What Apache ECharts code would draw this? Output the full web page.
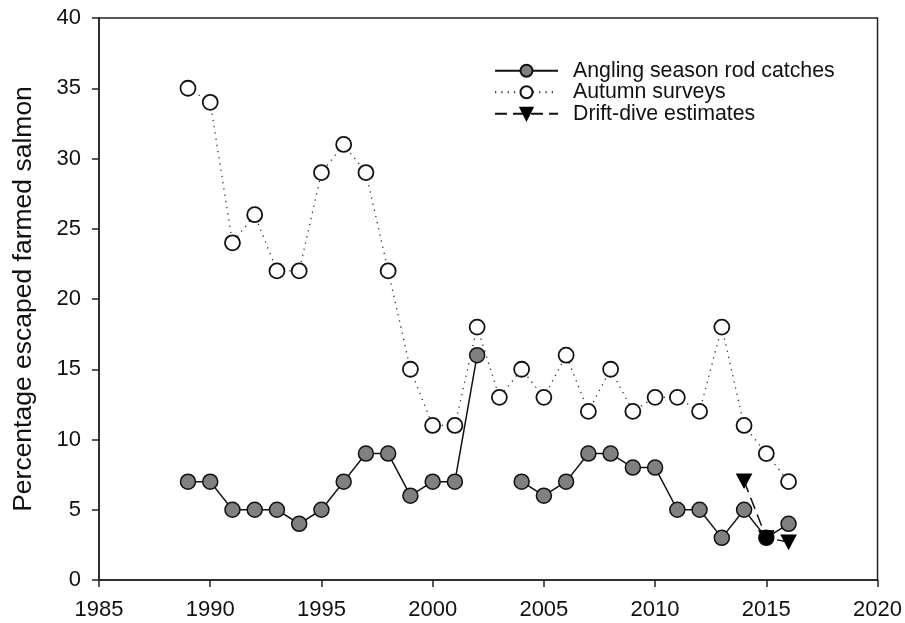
<!DOCTYPE html>
<html>
<head>
<meta charset="utf-8">
<script src="https://cdn.jsdelivr.net/npm/echarts@6/dist/echarts.min.js"></script>
<style>
html,body{margin:0;padding:0;background:#fff;}
#chart{width:905px;height:623px;}
</style>
</head>
<body>
<div id="chart"></div>
<script>
var years = [1989,1990,1991,1992,1993,1994,1995,1996,1997,1998,1999,2000,2001,2002,2003,2004,2005,2006,2007,2008,2009,2010,2011,2012,2013,2014,2015,2016];
var angling = [7,7,5,5,5,4,5,7,9,9,6,7,7,16,null,7,6,7,9,9,8,8,5,5,3,5,3,4];
var autumn = [35,34,24,26,22,22,29,31,29,22,15,11,11,18,13,15,13,16,12,15,12,13,13,12,18,11,9,7];
var driftYears = [2014,2015,2016];
var drift = [7.05,3,2.7];
var seriesNames = ['Angling season rod catches','Autumn surveys','Drift-dive estimates'];
var yTitle = 'Percentage escaped farmed salmon';

function pairs(xs, ys){ return xs.map(function(x,i){ return [x, ys[i]]; }); }

var anglingData = pairs(years, angling).map(function(p){
  if (p[0] === 2015) return {value:p, itemStyle:{color:'#000'}};
  return p;
});

var chart = echarts.init(document.getElementById('chart'));
var font = 'Arial, "Liberation Sans", sans-serif';
chart.setOption({
  backgroundColor:'#fff',
  animation:false,
  grid:{left:99,right:25,top:18,bottom:43,show:true,borderColor:'#222',borderWidth:1.5,backgroundColor:'transparent'},
  legend:{
    orient:'vertical', left:489, top:55, itemWidth:63, itemHeight:15, itemGap:0,
    textStyle:{fontFamily:font,fontSize:21.3,lineHeight:21.5,color:'#111',padding:[0,0,0,10]},
    data:seriesNames
  },
  xAxis:{
    type:'value', min:1985, max:2020, interval:5,
    axisLine:{lineStyle:{color:'#222',width:1.5}},
    axisTick:{show:true,length:7,lineStyle:{color:'#222',width:1.5}},
    axisLabel:{fontFamily:font,fontSize:22,color:'#111',margin:19,formatter:function(v){return String(v);}},
    splitLine:{show:false}
  },
  yAxis:{
    type:'value', min:0, max:40, interval:5,
    name:yTitle, nameLocation:'middle', nameGap:62,
    nameTextStyle:{fontFamily:font,fontSize:26.5,color:'#111'},
    axisLine:{show:true,lineStyle:{color:'#222',width:1.5}},
    axisTick:{show:true,length:7,lineStyle:{color:'#222',width:1.5}},
    axisLabel:{fontFamily:font,fontSize:22,color:'#111',margin:18},
    splitLine:{show:false}
  },
  series:[
    {
      name:seriesNames[1], type:'line', data:pairs(years, autumn), z:2,
      symbol:'circle', symbolSize:15,
      itemStyle:{color:'#fff',borderColor:'#111',borderWidth:1.8},
      lineStyle:{color:'#333',width:1.3,type:[1.3,5]}
    },
    {
      name:seriesNames[0], type:'line', data:anglingData, z:3, connectNulls:false,
      symbol:'circle', symbolSize:15,
      itemStyle:{color:'#808080',borderColor:'#111',borderWidth:1.5},
      lineStyle:{color:'#111',width:1.5,type:'solid'}
    },
    {
      name:seriesNames[2], type:'line', data:pairs(driftYears, drift), z:4,
      symbol:'triangle', symbolRotate:180, symbolSize:[15,14],
      itemStyle:{color:'#000',borderColor:'#000',borderWidth:1},
      lineStyle:{color:'#111',width:1.5,type:[12,6]}
    }
  ]
});
</script>
</body>
</html>
